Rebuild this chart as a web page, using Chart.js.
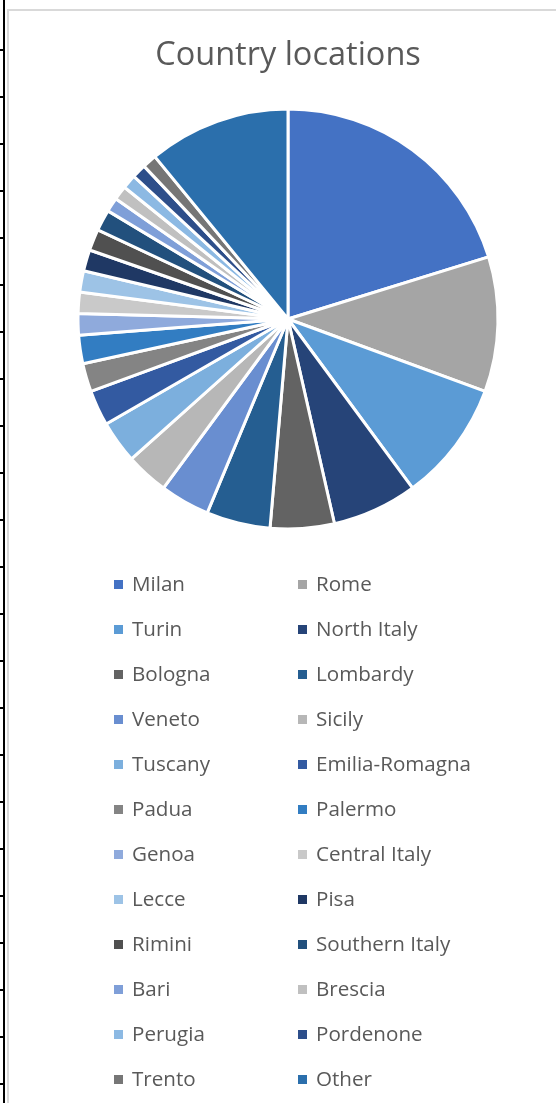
<!DOCTYPE html>
<html>
<head>
<meta charset="utf-8">
<script src="https://cdn.jsdelivr.net/npm/chart.js@4.4.1/dist/chart.umd.min.js"></script>
<style>
    body { margin: 0; background: #fff; }
    #wrap { position: relative; width: 556px; height: 1103px; overflow: hidden; }
    #legend { position: absolute; left: 0; top: 0; font-family: "Open Sans", sans-serif; font-size: 20.6px; color: #595959; }
    .item { position: absolute; white-space: nowrap; line-height: 28px; }
    .box { position: absolute; width: 9px; height: 9px; top: 10px; left: 0; }
    .item span { position: absolute; left: 18px; top: -1px; }
</style>
</head>
<body>
<div id="wrap">
    <canvas id="pie" width="556" height="1103"></canvas>
    <div id="legend"></div>
</div>
<script>
const labels = ['Milan', 'Rome', 'Turin', 'North Italy', 'Bologna', 'Lombardy', 'Veneto', 'Sicily',
    'Tuscany', 'Emilia-Romagna', 'Padua', 'Palermo', 'Genoa', 'Central Italy', 'Lecce', 'Pisa',
    'Rimini', 'Southern Italy', 'Bari', 'Brescia', 'Perugia', 'Pordenone', 'Trento', 'Other'];
const counts = [37, 19, 17, 12, 9, 9, 7, 6, 6, 5, 4, 4, 3, 3, 3, 3, 3, 3, 2, 2, 2, 2, 2, 20];
const colors = ['#4472C4', '#A5A5A5', '#5B9BD5', '#264478', '#636363', '#255E91', '#698ED0', '#B7B7B7',
    '#7CAFDD', '#335AA1', '#848484', '#327DC2', '#8FAADC', '#C9C9C9', '#9DC3E6', '#1F3864',
    '#505050', '#22507D', '#7F9FD8', '#C0C0C0', '#8CB9E3', '#2D4E8A', '#767676', '#2B6FAC'];

// spreadsheet grid on the left + chart frame
const framePlugin = {
    id: 'frame',
    beforeDraw(chart) {
        const ctx = chart.ctx;
        ctx.save();
        ctx.fillStyle = '#fff';
        ctx.fillRect(0, 0, chart.width, chart.height);
        ctx.fillStyle = '#000';
        ctx.fillRect(3, 0, 2, chart.height);
        for (let y = 50; y < chart.height; y += 47) {
            ctx.fillRect(0, y - 1, 4, 2);
        }
        ctx.fillStyle = '#d9d9d9';
        ctx.fillRect(7, 9, 2, chart.height);
        ctx.fillRect(7, 9, chart.width, 2);
        ctx.restore();
    }
};

const pieChart = new Chart(document.getElementById('pie'), {
    type: 'pie',
    data: {
        labels: labels,
        datasets: [{
            data: counts,
            backgroundColor: colors,
            borderColor: '#fff',
            borderWidth: 3,
            radius: 210
        }]
    },
    options: {
        responsive: false,
        animation: false,
        layout: { padding: { left: 78, right: 58, top: 0, bottom: 575 } },
        plugins: {
            legend: { display: false },
            tooltip: { enabled: false },
            title: {
                display: true,
                text: 'Country locations',
                color: '#595959',
                font: { family: 'Open Sans', size: 32.5, weight: 'normal', lineHeight: 1.2 },
                padding: { top: 36, bottom: 35 }
            }
        }
    },
    plugins: [framePlugin]
});

function buildLegend() {
    const legend = document.getElementById('legend');
    labels.forEach((name, i) => {
        const col = i % 2;
        const row = Math.floor(i / 2);
        const item = document.createElement('div');
        item.className = 'item';
        item.style.left = (col === 0 ? 114 : 298) + 'px';
        item.style.top = (570 + row * 45) + 'px';
        item.innerHTML = '<div class="box" style="background:' + colors[i] + '"></div><span>' + name + '</span>';
        legend.appendChild(item);
    });
}

buildLegend();
</script>
</body>
</html>
